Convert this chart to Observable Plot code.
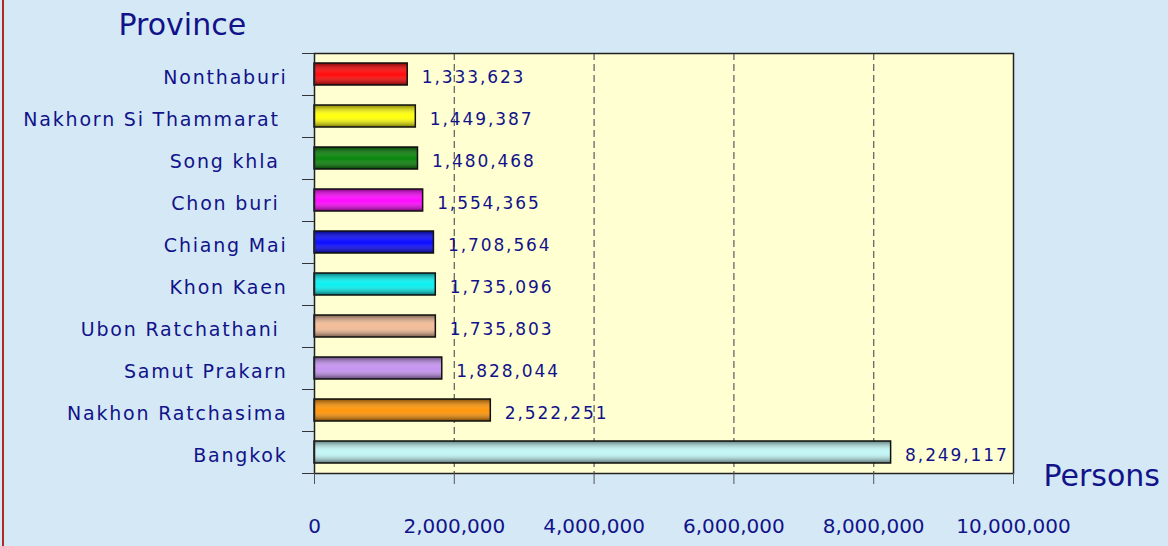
<!DOCTYPE html>
<html>
<head>
<meta charset="utf-8">
<script src="https://cdn.jsdelivr.net/npm/d3@7"></script>
<script src="https://cdn.jsdelivr.net/npm/@observablehq/plot@0.6"></script>
<style>
  html, body { margin: 0; padding: 0; background: #d4e9f5; }
  #wrap { position: relative; width: 1168px; height: 546px; overflow: hidden; }
  #edge { position: absolute; left: 2px; top: 0; width: 2px; height: 546px; background: #b02828; }
  svg { display: block; }
</style>
</head>
<body>
<div id="wrap"><div id="edge"></div></div>
<svg width="0" height="0" style="position:absolute">
  <defs>
    <linearGradient id="gloss" x1="0" y1="0" x2="0" y2="1">
      <stop offset="0" stop-color="#000" stop-opacity="0.5"/>
      <stop offset="0.45" stop-color="#fff" stop-opacity="0.08"/>
      <stop offset="0.55" stop-color="#fff" stop-opacity="0.05"/>
      <stop offset="1" stop-color="#000" stop-opacity="0.55"/>
    </linearGradient>
  </defs>
</svg>
<script>
const provinces = ["Nonthaburi", "Nakhorn Si Thammarat ", "Song khla ", "Chon buri ", "Chiang Mai",
  "Khon Kaen", "Ubon Ratchathani ", "Samut Prakarn", "Nakhon Ratchasima", "Bangkok"];
const populations = [1333623, 1449387, 1480468, 1554365, 1708564, 1735096, 1735803, 1828044, 2522251, 8249117];
const barColors = ["#ff0000", "#ffff00", "#008000", "#ff00ff", "#0000ff", "#00f0f0", "#f2b993", "#c38ff0", "#ff9200", "#bff5f5"];
const xTicks = [0, 2000000, 4000000, 6000000, 8000000, 10000000];
const gridTicks = [2000000, 4000000, 6000000, 8000000];
const yTitle = "Province";
const xTitle = "Persons";

const data = provinces.map((p, i) => ({province: p, value: populations[i], color: barColors[i]}));
const fmt = d3.format(",");
const navy = "#12128a";

const chart = Plot.plot({
  width: 1168,
  height: 546,
  marginLeft: 314,
  marginRight: 155,
  marginTop: 53,
  marginBottom: 73,
  style: {background: "transparent", fontFamily: "'DejaVu Sans', sans-serif", fontSize: "18px", color: navy},
  x: {domain: [0, 10000000], label: null},
  y: {domain: provinces, paddingInner: 0.48, paddingOuter: 0.24, label: null},
  color: {type: "identity"},
  marks: [
    Plot.frame({fill: "#ffffd2"}),
    Plot.ruleX(gridTicks, {stroke: "#666", strokeDasharray: "7,4", strokeWidth: 1.3}),
    Plot.barX(data, {x: "value", y: "province", fill: "color"}),
    Plot.barX(data, {x: "value", y: "province", fill: "url(#gloss)", stroke: "#111", strokeWidth: 1.5}),
    Plot.text(data, {x: "value", y: "province", text: d => fmt(d.value), textAnchor: "start", dx: 14, dy: 3, fill: navy, fontSize: 17}),
    Plot.frame({stroke: "#222", strokeWidth: 1.5}),
    Plot.axisY({tickSize: 0, tickPadding: 27, dy: 3, fill: navy, fontSize: 19}),
    Plot.axisY({text: null, tickSize: 12, dy: -21, stroke: "#333"}),
    Plot.axisY(["Bangkok"], {text: null, tickSize: 12, dy: 21, stroke: "#333"}),
    Plot.axisX(xTicks, {tickSize: 11, tickPadding: 34, tickFormat: fmt, stroke: "#555", fill: navy, fontSize: 20}),
    Plot.text([yTitle], {frameAnchor: "top-left", textAnchor: "start", lineAnchor: "middle", dx: -196, dy: -28, fontSize: 30, fill: navy}),
    Plot.text([xTitle], {frameAnchor: "bottom-right", textAnchor: "start", lineAnchor: "middle", dx: 30, dy: 3, fontSize: 30, fill: navy})
  ]
});
const textGroups = chart.querySelectorAll('g[aria-label="text"]');
textGroups[0].querySelectorAll("text").forEach(t => t.style.letterSpacing = "1.9px");
chart.querySelectorAll('[aria-label="y-axis tick label"] text').forEach(t => {
  t.style.letterSpacing = "1.8px";
  t.style.whiteSpace = "pre";
});
document.getElementById("wrap").appendChild(chart);
</script>
</body>
</html>
